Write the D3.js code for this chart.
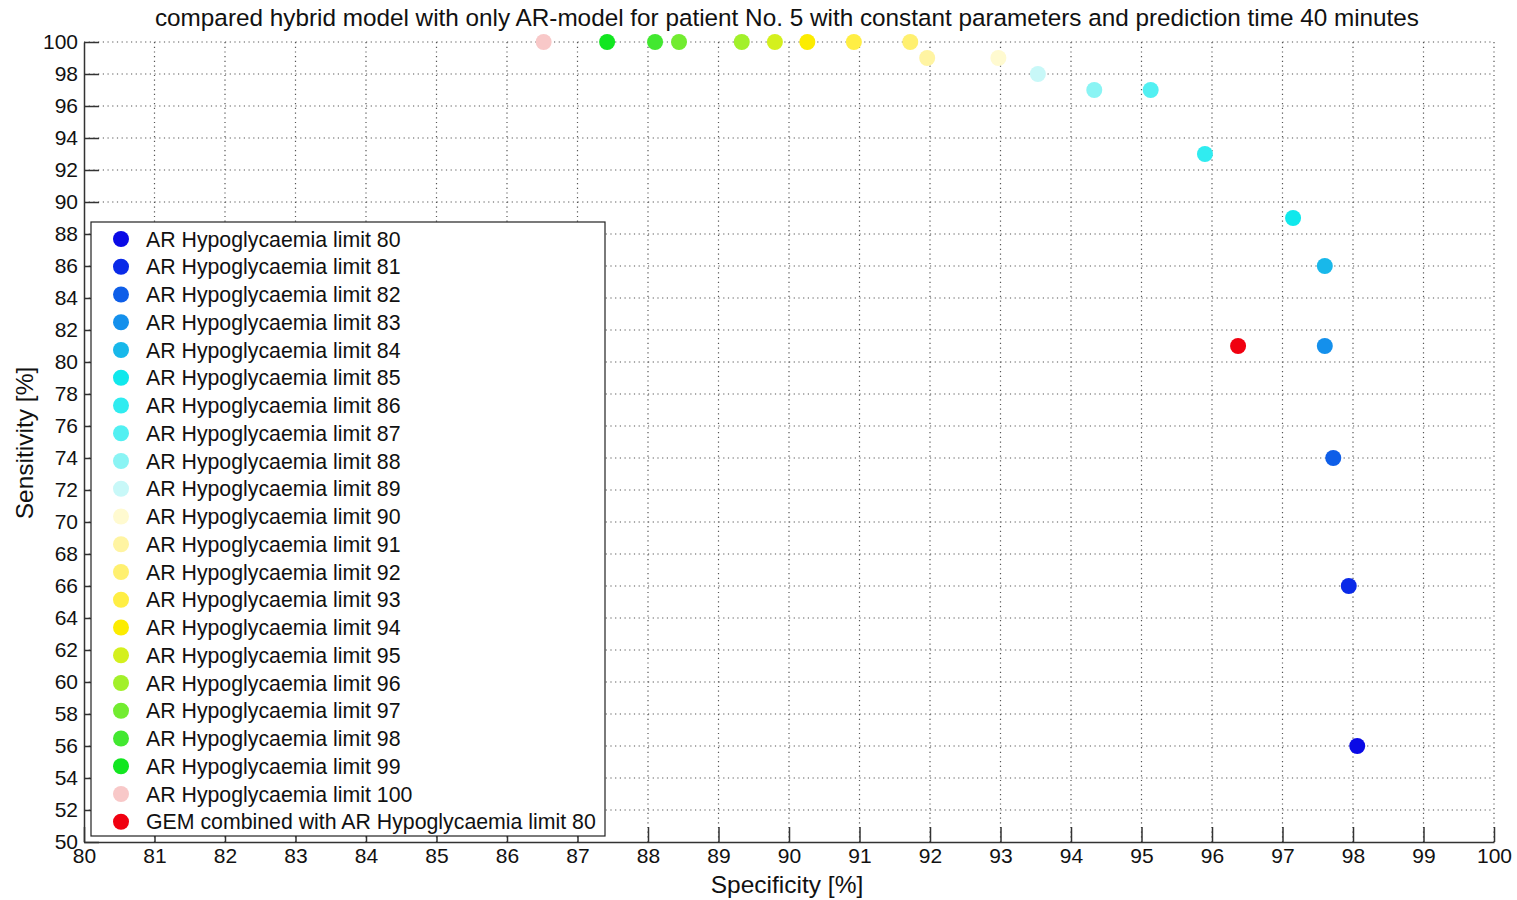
<!DOCTYPE html>
<html>
<head>
<meta charset="utf-8">
<script src="https://cdn.jsdelivr.net/npm/d3@7"></script>
<style>
  body { margin: 0; background: #fff; }
  text { font-family: "Liberation Sans", Arial, sans-serif; }
</style>
</head>
<body>
<div id="wrapper"></div>
<script>
// data: one point per hypoglycaemia limit
const limits = [80, 81, 82, 83, 84, 85, 86, 87, 88, 89, 90,
                91, 92, 93, 94, 95, 96, 97, 98, 99, 100]
const specificity = [98.06, 97.94, 97.72, 97.6, 97.6, 97.15, 95.9, 95.13, 94.33, 93.53, 92.97,
                     91.96, 91.72, 90.92, 90.26, 89.8, 89.33, 88.44, 88.1, 87.42, 86.52]
const sensitivity = [56, 66, 74, 81, 86, 89, 93, 97, 97, 98, 99,
                     99, 100, 100, 100, 100, 100, 100, 100, 100, 100]
const colors = ["#0a0ae6", "#0a2ae8", "#0e5ee8", "#1490ec", "#18b8ea", "#10e8ec", "#30ecf0",
                "#52f0f2", "#8af4f4", "#c8f8f8", "#fffad0", "#fff4a2", "#fff070", "#ffee44",
                "#fcec00", "#d4f01e", "#a2f02a", "#72ec30", "#42e830", "#12e620", "#f8c8c8"]

const gemLabel = "GEM combined with AR Hypoglycaemia limit 80"
const gemSpecificity = 96.37
const gemSensitivity = 81
const gemColor = "#f00010"

const xTicks = d3.range(80, 101, 1)
const yTicks = d3.range(50, 101, 2)

const points = limits.map((l, i) => ({
  label: `AR Hypoglycaemia limit ${l}`,
  x: specificity[i],
  y: sensitivity[i],
  color: colors[i]
}))
points.push({ label: gemLabel, x: gemSpecificity, y: gemSensitivity, color: gemColor })

// dimensions
let dimensions = {
  width: 1517,
  height: 900,
  margins: { top: 42, right: 23, bottom: 58, left: 84 }
}
dimensions.boundedWidth = dimensions.width - dimensions.margins.left - dimensions.margins.right
dimensions.boundedHeight = dimensions.height - dimensions.margins.top - dimensions.margins.bottom

const wrapper = d3.select("#wrapper")
  .append("svg")
    .attr("width", dimensions.width)
    .attr("height", dimensions.height)

const bounds = wrapper.append("g")
  .attr("transform", `translate(${dimensions.margins.left}, ${dimensions.margins.top})`)

// scales
const xScale = d3.scaleLinear()
  .domain([80, 100])
  .range([0, dimensions.boundedWidth])

const yScale = d3.scaleLinear()
  .domain([50, 100])
  .range([dimensions.boundedHeight, 0])

// dotted grid
const grid = bounds.append("g")
  .attr("stroke", "#555")
  .attr("stroke-width", 1.2)
  .attr("stroke-dasharray", "1.2,3.5")

grid.selectAll(".vgrid")
  .data(xTicks.slice(1))
  .join("line")
    .attr("x1", d => xScale(d))
    .attr("x2", d => xScale(d))
    .attr("y1", 0)
    .attr("y2", dimensions.boundedHeight)

grid.selectAll(".hgrid")
  .data(yTicks.slice(1))
  .join("line")
    .attr("x1", 0)
    .attr("x2", dimensions.boundedWidth)
    .attr("y1", d => yScale(d))
    .attr("y2", d => yScale(d))

// axes (ticks pointing inward)
const xAxisGenerator = d3.axisBottom(xScale)
  .tickValues(xTicks)
  .tickSizeInner(-15)
  .tickSizeOuter(0)
  .tickPadding(8)

const xAxis = bounds.append("g")
  .attr("transform", `translate(0, ${dimensions.boundedHeight})`)
  .call(xAxisGenerator)

const yAxisGenerator = d3.axisLeft(yScale)
  .tickValues(yTicks)
  .tickSizeInner(-15)
  .tickSizeOuter(0)
  .tickPadding(6)

const yAxis = bounds.append("g")
  .call(yAxisGenerator)

;[xAxis, yAxis].forEach(ax => {
  ax.select(".domain").attr("stroke", "#333").attr("stroke-width", 1.5)
  ax.selectAll(".tick line").attr("stroke", "#333").attr("stroke-width", 1.5)
  ax.selectAll(".tick text")
    .attr("fill", "#111")
    .style("font-size", "21px")
    .style("font-family", "'Liberation Sans', Arial, sans-serif")
})
xAxis.selectAll(".tick text").attr("dy", "0.62em")
yAxis.selectAll(".tick text").attr("dy", "0.3em")

// points
bounds.selectAll(".pt")
  .data(points)
  .join("circle")
    .attr("cx", d => xScale(d.x))
    .attr("cy", d => yScale(d.y))
    .attr("r", 8)
    .attr("fill", d => d.color)

// title and axis labels
wrapper.append("text")
  .attr("x", 787)
  .attr("y", 26)
  .attr("text-anchor", "middle")
  .style("font-size", "24.3px")
  .attr("fill", "#111")
  .text("compared hybrid model with only AR-model for patient No. 5 with constant parameters and prediction time 40 minutes")

wrapper.append("text")
  .attr("x", 787)
  .attr("y", 893)
  .attr("text-anchor", "middle")
  .style("font-size", "24.5px")
  .attr("fill", "#111")
  .text("Specificity [%]")

wrapper.append("text")
  .attr("transform", "translate(33, 443) rotate(-90)")
  .attr("text-anchor", "middle")
  .style("font-size", "24.5px")
  .attr("fill", "#111")
  .text("Sensitivity [%]")

// legend
const legend = wrapper.append("g")
  .attr("transform", "translate(91, 222)")

legend.append("rect")
  .attr("width", 514)
  .attr("height", 614)
  .attr("fill", "#fff")
  .attr("stroke", "#222")
  .attr("stroke-width", 1.2)

const rowStep = 27.75
const rows = legend.selectAll(".row")
  .data(points)
  .join("g")
    .attr("transform", (d, i) => `translate(0, ${17 + i * rowStep})`)

rows.append("circle")
  .attr("cx", 30)
  .attr("cy", 0)
  .attr("r", 8)
  .attr("fill", d => d.color)

rows.append("text")
  .attr("x", 55)
  .attr("y", 0)
  .attr("dy", "0.36em")
  .style("font-size", "21.3px")
  .attr("fill", "#111")
  .text(d => d.label)
</script>
</body>
</html>
